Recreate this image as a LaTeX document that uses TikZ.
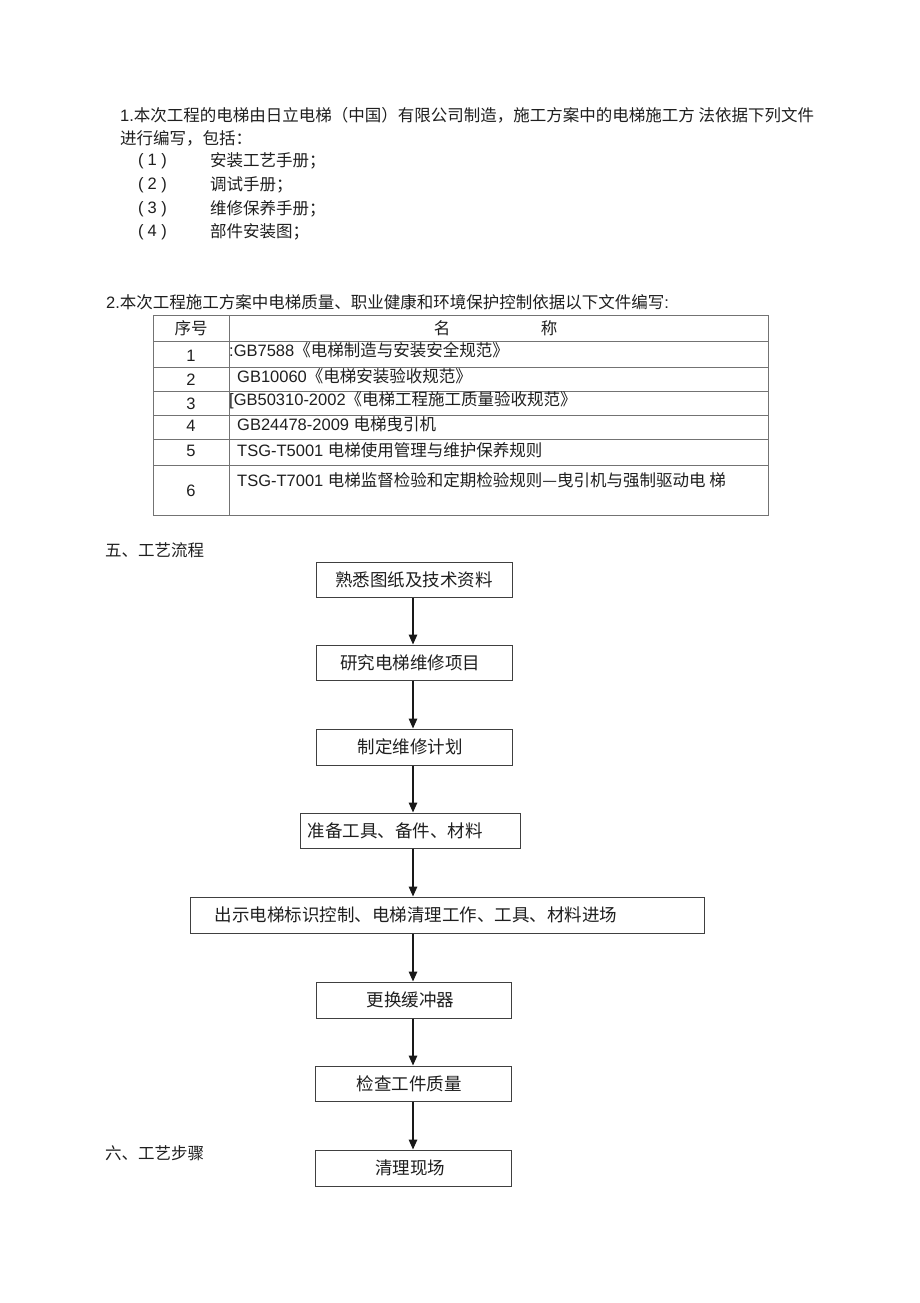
\documentclass[tikz,border=0pt]{standalone}
\usepackage{fontspec}
\setmainfont{Liberation Sans}
\newfontfamily\cjk{Noto Sans CJK SC}
\newcommand\zh[1]{{\cjk #1}}
\newcommand\parnum[1]{(\hspace{4pt}#1\hspace{4.5pt})}
\usetikzlibrary{arrows.meta}
\begin{document}
\begin{tikzpicture}[x=1pt,y=-1pt,
  txt/.style={anchor=west, inner sep=0pt, text=black!88, font=\fontsize{16.5}{18}\selectfont},
  ctr/.style={anchor=center, inner sep=0pt, text=black!88, font=\fontsize{16.5}{18}\selectfont},
  fbox/.style={draw=black!75, line width=1pt, minimum height=35pt, inner sep=0pt, text=black!88,
    font=\cjk\fontsize{17.5}{18}\selectfont},
  arr/.style={draw=black!90, line width=1.5pt, -{Triangle[length=10pt,width=8.5pt]}},
  grid/.style={draw=black!55, line width=0.7pt}]
\useasboundingbox[fill=white] (0,0) rectangle (920,1303);

% ---- section 1 text
\node[txt] (l1) at (120,115) {1.\zh{本次工程的电梯由日立电梯（中国）有限公司制造，施工方案中的电梯施工方 法依据下列文件}};
\node[txt] (l2) at (120,138) {\zh{进行编写，包括：}};
\node[txt] (n1) at (138,161) {\parnum{1}};
\node[txt] (t1) at (210,161) {\zh{安装工艺手册；}};
\node[txt] (n2) at (138,185) {\parnum{2}};
\node[txt] (t2) at (210,185) {\zh{调试手册；}};
\node[txt] (n3) at (138,209) {\parnum{3}};
\node[txt] (t3) at (210,209) {\zh{维修保养手册；}};
\node[txt] (n4) at (138,232) {\parnum{4}};
\node[txt] (t4) at (210,232) {\zh{部件安装图；}};

% ---- section 2
\node[txt] (s2) at (106,302) {2.\zh{本次工程施工方案中电梯质量、职业健康和环境保护控制依据以下文件编写}:};

% table
\draw[grid] (153,315) rectangle (768,515);
\draw[grid] (229,315) -- (229,515);
\foreach \yy in {341,367,391,415,439,465} \draw[grid] (153,\yy) -- (768,\yy);

\node[ctr] (h1) at (191,328) {\zh{序号}};
\node[ctr] (h2) at (442,328) {\zh{名}};
\node[ctr] (h3) at (549,328) {\zh{称}};

\node[ctr] (r1) at (191,356) {1};
\node[ctr] (r2) at (191,380) {2};
\node[ctr] (r3) at (191,404) {3};
\node[ctr] (r4) at (191,426) {4};
\node[ctr] (r5) at (191,451) {5};
\node[ctr] (r6) at (191,491) {6};

\node[txt] (c1) at (229,350) {:GB7588\zh{《电梯制造与安装安全规范》}};
\node[txt] (c2) at (237,376) {GB10060\zh{《电梯安装验收规范》}};
\node[txt] (c3) at (229,400) {[GB50310-2002\zh{《电梯工程施工质量验收规范》}};
\node[txt] (c4) at (237,424) {GB24478-2009 \zh{电梯曳引机}};
\node[txt] (c5) at (237,450) {TSG-T5001 \zh{电梯使用管理与维护保养规则}};
\node[txt] (c6) at (237,480) {TSG-T7001 \zh{电梯监督检验和定期检验规则—曳引机与强制驱动电 梯}};

% ---- section 5 flow
\node[txt] (sec5) at (105,550) {\zh{五、工艺流程}};
\node[txt] (sec6) at (105,1153) {\zh{六、工艺步骤}};

\node[fbox, minimum width=196pt] (b1) at (414,579.5) {熟悉图纸及技术资料};
\node[fbox, minimum width=196pt] (b2) at (414,662.5) {研究电梯维修项目\hspace*{8pt}};
\node[fbox, minimum width=196pt, minimum height=36pt] (b3) at (414,747) {制定维修计划\hspace*{8pt}};
\node[fbox, minimum width=220pt] (b4) at (410,830.5) {准备工具、备件、材料\hspace*{30pt}};
\node[fbox, minimum width=514pt, minimum height=36pt] (b5) at (447,915) {出示电梯标识控制、电梯清理工作、工具、材料进场\hspace*{62pt}};
\node[fbox, minimum width=195pt, minimum height=36pt] (b6) at (413.5,1000) {更换缓冲器\hspace*{6pt}};
\node[fbox, minimum width=196pt] (b7) at (413,1083.5) {检查工件质量\hspace*{8pt}};
\node[fbox, minimum width=196pt, minimum height=36pt] (b8) at (413,1168) {清理现场\hspace*{6pt}};

\coordinate (ax) at (413,0);
\foreach \a/\b in {b1/b2,b2/b3,b3/b4,b4/b5,b5/b6,b6/b7,b7/b8}
  \draw[arr] (\a.south -| ax) -- (\b.north -| ax);
\end{tikzpicture}
\end{document}
